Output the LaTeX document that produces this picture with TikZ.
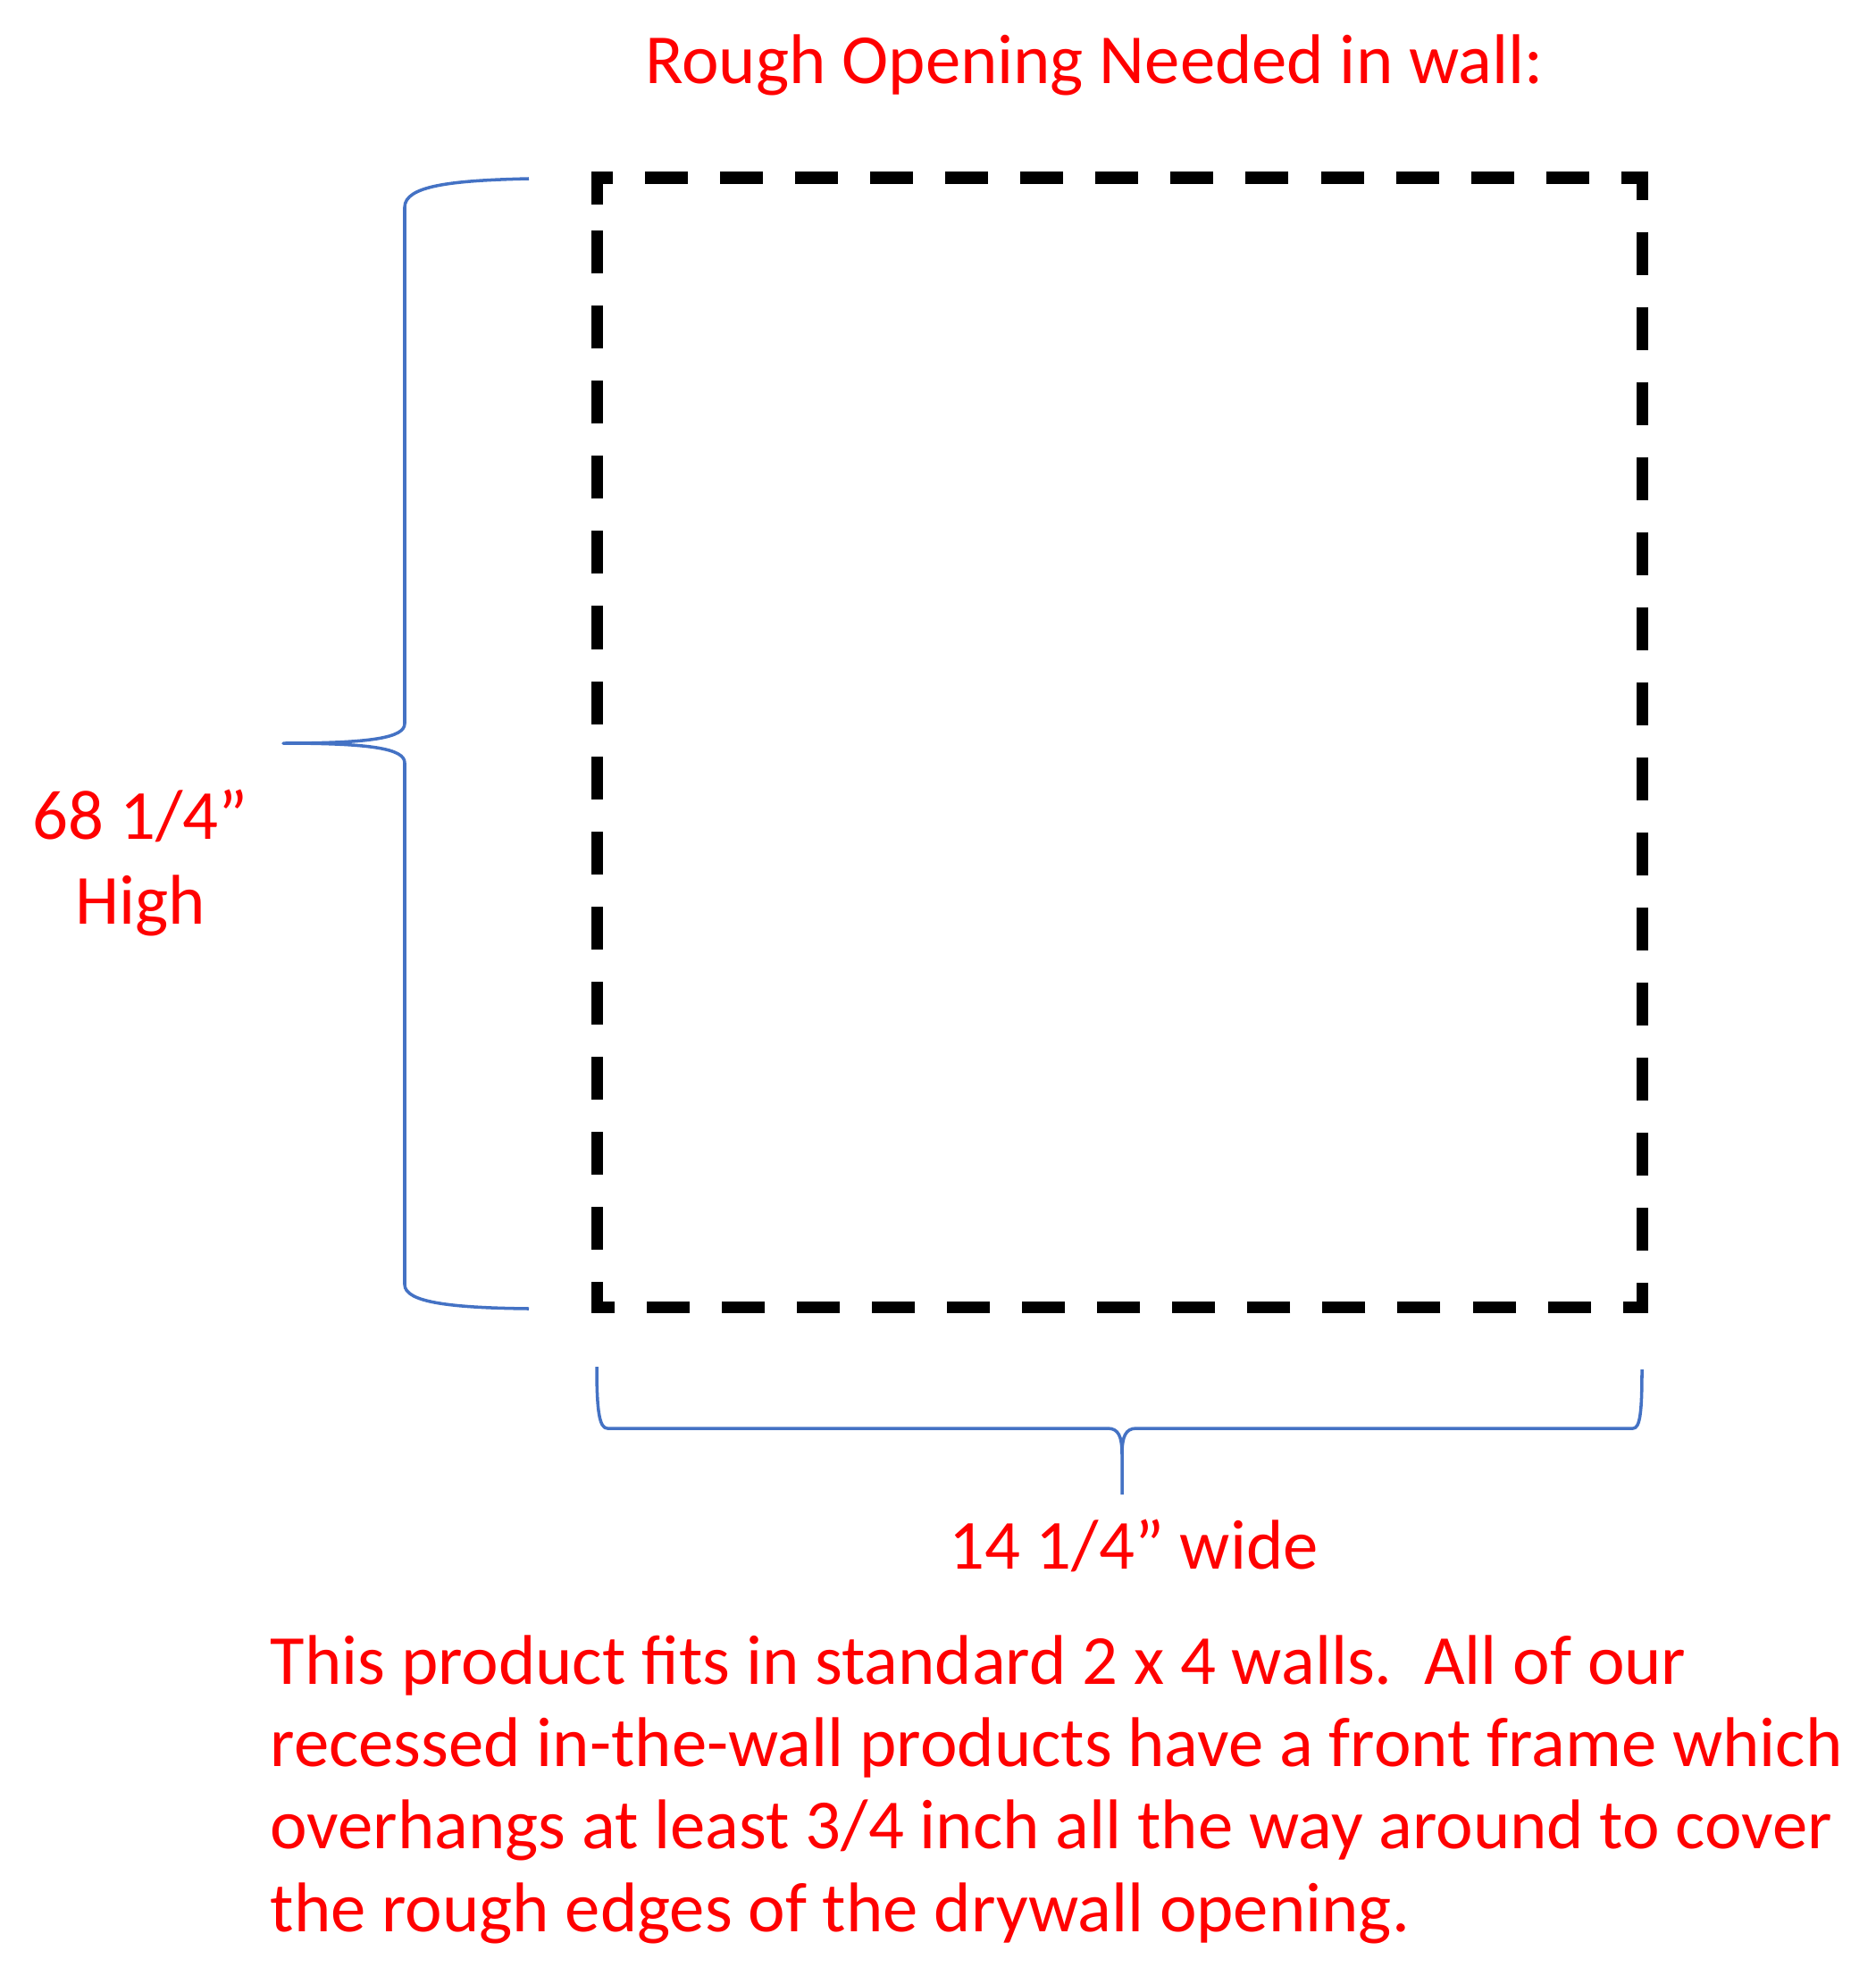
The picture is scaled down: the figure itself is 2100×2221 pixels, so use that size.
\documentclass[tikz,border=0pt]{standalone}
\usepackage{fontspec}
\setmainfont{Carlito}
\usepackage{xcolor}
\usetikzlibrary{positioning}
\definecolor{bracecol}{HTML}{4472C4}
\definecolor{notered}{HTML}{FF0000}
\tikzset{
    redtext/.style={text=notered, inner sep=0pt, font=\fontsize{22.4}{26.2}\selectfont},
    bracestyle/.style={draw=bracecol, line width=1pt, line join=round},
    openingline/.style={draw=black, line width=3.7pt, dash pattern=on 0.48cm off 0.36cm}
}

\begin{document}
\begin{tikzpicture}[x=0.01cm, y=-0.01cm]
                        \useasboundingbox (0,0) rectangle (2100,2221);
                        \coordinate (tl) at (668,199);
                        \coordinate (tr) at (1838,199);
                        \coordinate (br) at (1838,1463);
                        \coordinate (bl) at (668,1463);
                        \coordinate (lefttip) at (317,832);
                        \coordinate (bottomtip) at (1256,1673);
                        \node[redtext, anchor=base] (title) at (1225,93) {Rough Opening Needed in wall:};
                        \node[redtext, anchor=base, align=center, font=\fontsize{22.4}{27}\selectfont] (height) at (157,1034) {68 1/4”\\High};
                        \node[redtext, anchor=base] (width) at (1269,1756) {14 1/4” wide};
                        \node[redtext, anchor=base west, align=left] (note) at (302,2162)
                        {This product fits in standard 2 x 4 walls.\ \ All of our\\
                        recessed in-the-wall products have a front frame which\\
                        overhangs at least 3/4 inch all the way around to cover\\
                        the rough edges of the drywall opening.};
                        \draw[openingline]
                        (668,229) -- (tl) -- (tr) -- (br) -- (bl) -- cycle;
                        \draw[bracestyle]
                        (592,200) .. controls (505,202) and (453,208) .. (453,232)
                        -- (453,810) .. controls (453,826) and (415,832) .. (lefttip)
                        .. controls (415,832) and (453,838) .. (453,854)
                        -- (453,1438) .. controls (453,1458) and (505,1464) .. (592,1465);
                        \draw[bracestyle]
                        (668,1530) .. controls (668,1580) and (671,1599) .. (680,1599)
                        -- (1240,1599) .. controls (1252,1599) and (1256,1608) .. (1256,1628)
                        -- (bottomtip);
                        \draw[bracestyle]
                        (1256,1628) .. controls (1256,1608) and (1260,1599) .. (1272,1599)
                        -- (1828,1599) .. controls (1836,1599) and (1838,1580) .. (1838,1533);
                    \end{tikzpicture}
\end{document}
